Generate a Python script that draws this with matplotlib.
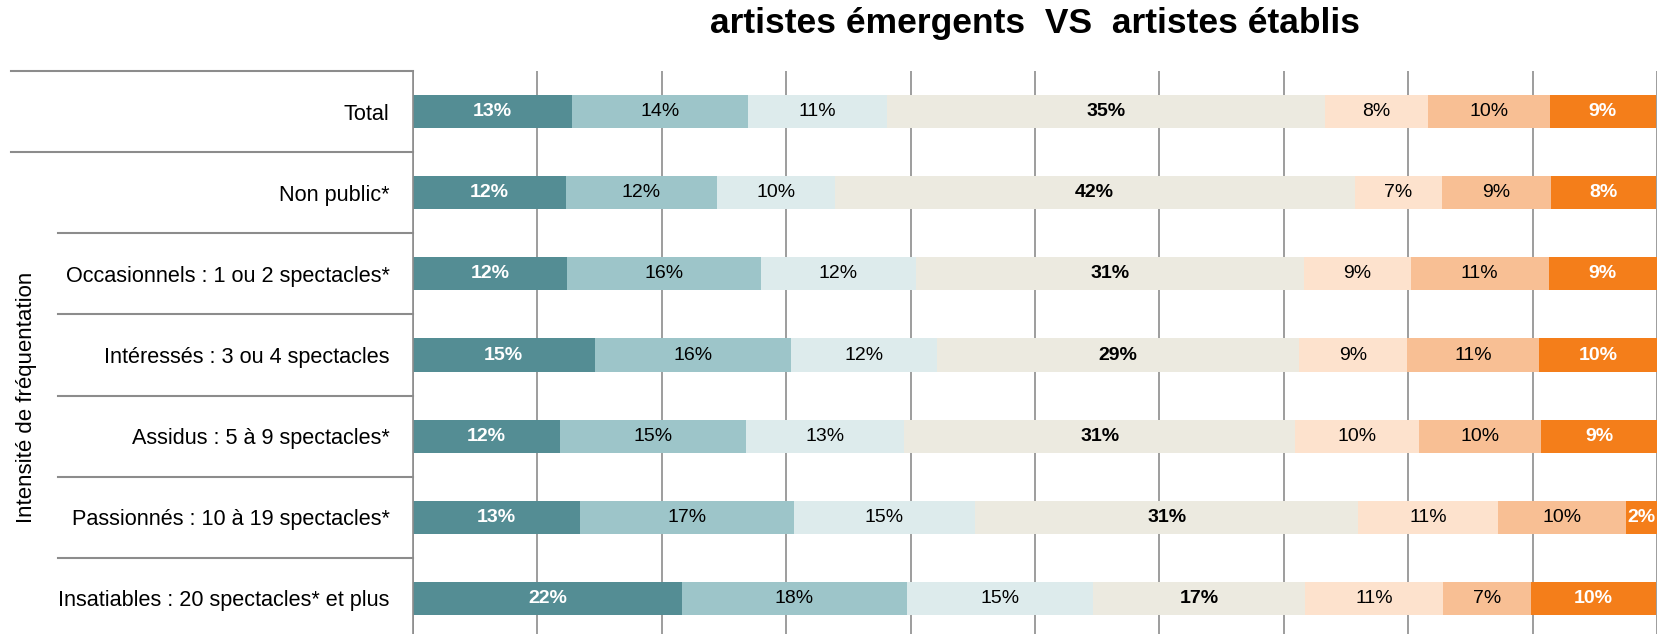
import numpy as np
import matplotlib.pyplot as plt

plt.rcParams["font.family"] = ["Liberation Sans", "DejaVu Sans"]

# --- Données ---
categories = [
    "Total",
    "Non public*",
    "Occasionnels : 1 ou 2 spectacles*",
    "Intéressés : 3 ou 4 spectacles",
    "Assidus : 5 à 9 spectacles*",
    "Passionnés : 10 à 19 spectacles*",
    "Insatiables : 20 spectacles* et plus",
]

# largeurs des segments (%)
seg1 = [12.8, 12.3, 12.4, 14.6, 11.8, 13.4, 21.6]
seg2 = [14.1, 12.1, 15.6, 15.8, 15.0, 17.2, 18.1]
seg3 = [11.2, 9.5, 12.4, 11.7, 12.7, 14.6, 15.0]
seg4 = [35.2, 41.8, 31.2, 29.1, 31.4, 30.8, 17.0]
seg5 = [8.3, 7.0, 8.6, 8.7, 10.0, 11.2, 11.1]
seg6 = [9.8, 8.8, 11.1, 10.6, 9.8, 10.3, 7.1]
seg7 = [8.5, 8.4, 8.7, 9.5, 9.3, 2.5, 10.0]

# étiquettes affichées
lab1 = [13, 12, 12, 15, 12, 13, 22]
lab2 = [14, 12, 16, 16, 15, 17, 18]
lab3 = [11, 10, 12, 12, 13, 15, 15]
lab4 = [35, 42, 31, 29, 31, 31, 17]
lab5 = [8, 7, 9, 9, 10, 11, 11]
lab6 = [10, 9, 11, 11, 10, 10, 7]
lab7 = [9, 8, 9, 10, 9, 2, 10]

segments = [seg1, seg2, seg3, seg4, seg5, seg6, seg7]
labels = [lab1, lab2, lab3, lab4, lab5, lab6, lab7]
colors = ["#548d94", "#9dc5c9", "#ddebec", "#eceae0", "#fde2cd", "#f8bf94", "#f47e1a"]
text_colors = ["white", "black", "black", "black", "black", "black", "white"]
text_weights = ["bold", "normal", "normal", "bold", "normal", "normal", "bold"]

fig = plt.figure(figsize=(16.6, 6.34), dpi=100)
ax = fig.add_axes([413 / 1660, -5 / 634, 1244 / 1660, 568 / 634])

y = np.arange(len(categories))
left = np.zeros(len(categories))
for seg, lab, col, tc, tw in zip(segments, labels, colors, text_colors, text_weights):
    seg = np.array(seg)
    ax.barh(y, seg, left=left, height=0.41, color=col, zorder=2)
    for yi, (l, w, t) in enumerate(zip(left, seg, lab)):
        ax.text(l + w / 2, yi, f"{t}%", ha="center", va="center",
                color=tc, fontweight=tw, fontsize=14, zorder=3)
    left = left + seg

ax.set_xlim(0, 100)
ax.set_ylim(6.5, -0.5)
ax.set_xticks(np.arange(0, 101, 10))
ax.xaxis.grid(True, color="#8c8c8c", linewidth=1.2, zorder=1)
ax.tick_params(axis="x", length=0, labelbottom=False)
ax.set_yticks(y)
ax.set_yticklabels(categories, fontsize=15.6)
ax.tick_params(axis="y", length=0, pad=17)
for s in ["top", "right", "bottom"]:
    ax.spines[s].set_visible(False)
ax.spines["left"].set_color("#8c8c8c")
ax.spines["left"].set_linewidth(1.2)

# lignes de séparation dans la zone des libellés
x_far = (10.6 - 413) / 1244
x_near = (58 - 413) / 1244
trans = ax.get_yaxis_transform()
for yb in [-0.5, 0.5]:
    ax.plot([x_far, 0], [yb, yb], color="#8c8c8c", lw=1.5, transform=trans, clip_on=False)
for yb in [1.5, 2.5, 3.5, 4.5, 5.5]:
    ax.plot([x_near, 0], [yb, yb], color="#8c8c8c", lw=1.5, transform=trans, clip_on=False)

fig.text(26.5 / 1660, 1 - 397 / 634, "Intensité de fréquentation", rotation=90,
         ha="center", va="center", fontsize=16)

fig.text(1035 / 1660, 1 - 23 / 634, "artistes émergents  VS  artistes établis",
         ha="center", va="center", fontsize=25.5, fontweight="bold")

fig.savefig("out.png", dpi=100)
